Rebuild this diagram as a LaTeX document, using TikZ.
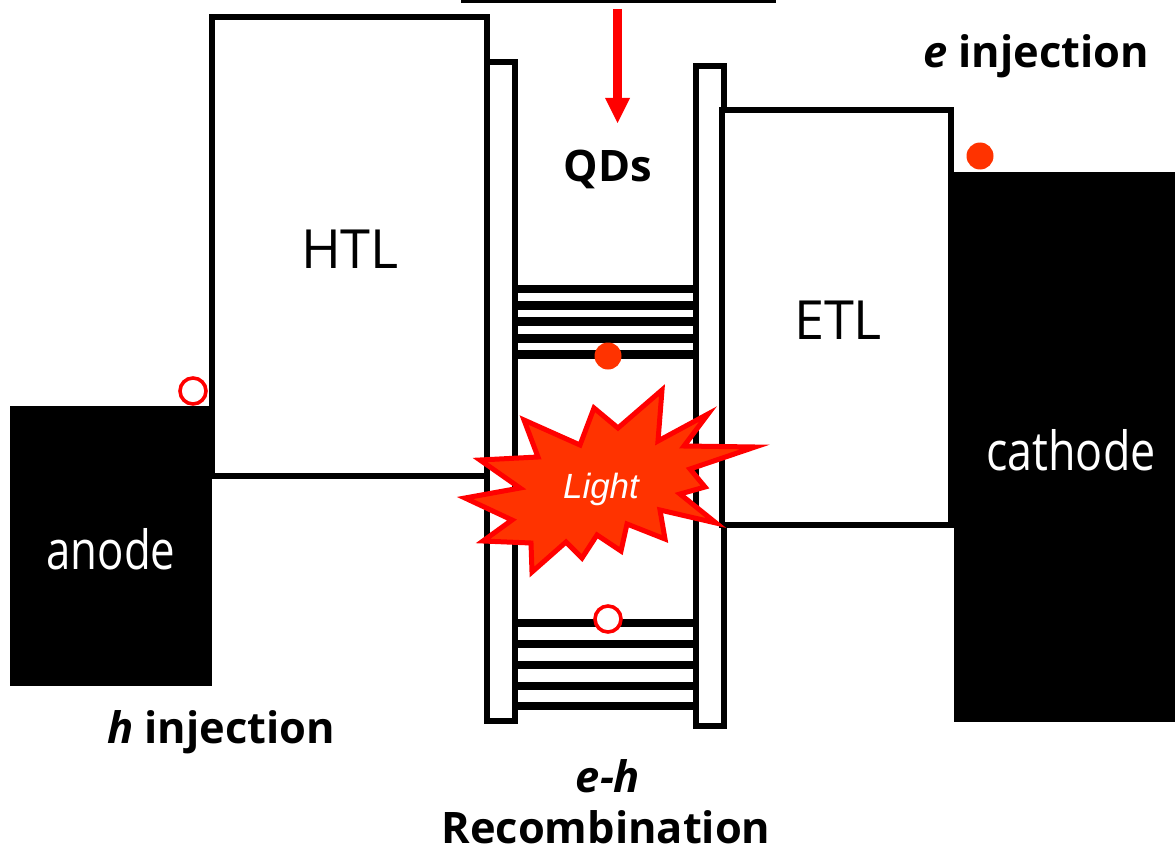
\documentclass[tikz,border=0pt]{standalone}
\usepackage{fontspec}
\setmainfont{Open Sans}
\newfontfamily\lightfont{Liberation Sans}
\usepackage{tikz}
\tikzset{
  barline/.style={draw=black, line width=6pt, fill=white},
  metal/.style={fill=black},
  lvlline/.style={black, line width=8.5pt},
  opencarrier/.style={circle, draw=red, fill=white, line width=3.6pt, minimum size=26pt, inner sep=0pt},
  fullcarrier/.style={circle, fill=orangered, minimum size=27pt, inner sep=0pt},
  boldlabel/.style={font=\bfseries\fontsize{43.4}{48}\selectfont, inner sep=0pt, text=black},
  layerlabel/.style={font=\fontsize{54}{60}\selectfont, inner sep=0pt}
}
\definecolor{orangered}{HTML}{FF3300}
\begin{document}
\begin{tikzpicture}[x=1pt, y=-1pt]
\useasboundingbox (0,0) rectangle (1175,848);

% electrodes
\fill[metal] (10,406) rectangle (212,686);
\fill[metal] (954,172) rectangle (1175,722);
\fill[metal] (461,0) rectangle (776,3.5);

% transport layer and barriers
\draw[barline] (211.5,476) -- (211.5,17.5) -- (487,17.5) -- (487,476) -- cycle;
\draw[barline] (487,62) rectangle (514.5,721);
\draw[barline] (696,66) rectangle (723.5,726);
\draw[barline] (722,525) -- (722,110) -- (950.5,110) -- (950.5,525) -- cycle;

% QD levels
\draw[lvlline] (514,289) -- (693,289);
\draw[lvlline] (514,305.5) -- (693,305.5);
\draw[lvlline] (514,321.5) -- (693,321.5);
\draw[lvlline] (514,338.5) -- (693,338.5);
\draw[lvlline] (514,354.5) -- (693,354.5);

\draw[lvlline] (514,623) -- (693,623);
\draw[lvlline] (514,644) -- (693,644);
\draw[lvlline] (514,665) -- (693,665);
\draw[lvlline] (514,686) -- (693,686);
\draw[lvlline] (514,706) -- (693,706);

% carriers
\node[opencarrier] (holeleft) at (193,391) {};
\node[opencarrier] (holeqd) at (608,619) {};
\node[fullcarrier] (elecright) at (980,156) {};
\node[fullcarrier] (elecqd) at (608,356) {};

% incoming arrow
\coordinate (arrowstart) at (617.5,9);
\coordinate (arrowbase) at (617.5,98);
\coordinate (arrowtip) at (617.5,123);
\draw[red, line width=9pt] (arrowstart) -- (arrowbase);
\fill[red] (605,98) -- (630,98) -- (arrowtip) -- cycle;

% burst
\filldraw[fill=orangered, draw=red, line width=5pt, miter limit=10]
  (524,420) -- (580,445) -- (594,408) -- (618,428) -- (662,390)
  -- (658,441) -- (708,414) -- (684,446) -- (755,447) -- (690,469)
  -- (705,487) -- (680,494) -- (716,523) -- (660,510) -- (665,539)
  -- (627,524) -- (621,551) -- (597,535) -- (582,558) -- (566,542)
  -- (532,572) -- (531,543) -- (483,541) -- (512,520) -- (465,498)
  -- (520,488) -- (480,460) -- (538,457) -- cycle;
\node[font=\lightfont\itshape\fontsize{35}{40}\selectfont, text=white, inner sep=0pt] (lighttext) at (601,489) {Light};

% labels
\node[layerlabel, text=black] (htltext) at (350,249) {HTL};
\node[layerlabel, text=black] (etltext) at (838,320) {ETL};
\node[layerlabel, text=white] (anodetext) at (111,549) {\scalebox{0.81}[1]{anode}};
\node[layerlabel, text=white] (cathodetext) at (1071,450) {\scalebox{0.83}[1]{cathode}};
\node[boldlabel] (qdtext) at (608,169) {QDs};
\node[boldlabel] (einj) at (1036,56) {\textit{e} injection};
\node[boldlabel] (hinj) at (221,732) {\textit{h} injection};
\node[boldlabel] (ehtext) at (608,776) {\textit{e-h}};
\node[boldlabel] (recomb) at (606,827) {Recombination};

\end{tikzpicture}
\end{document}
